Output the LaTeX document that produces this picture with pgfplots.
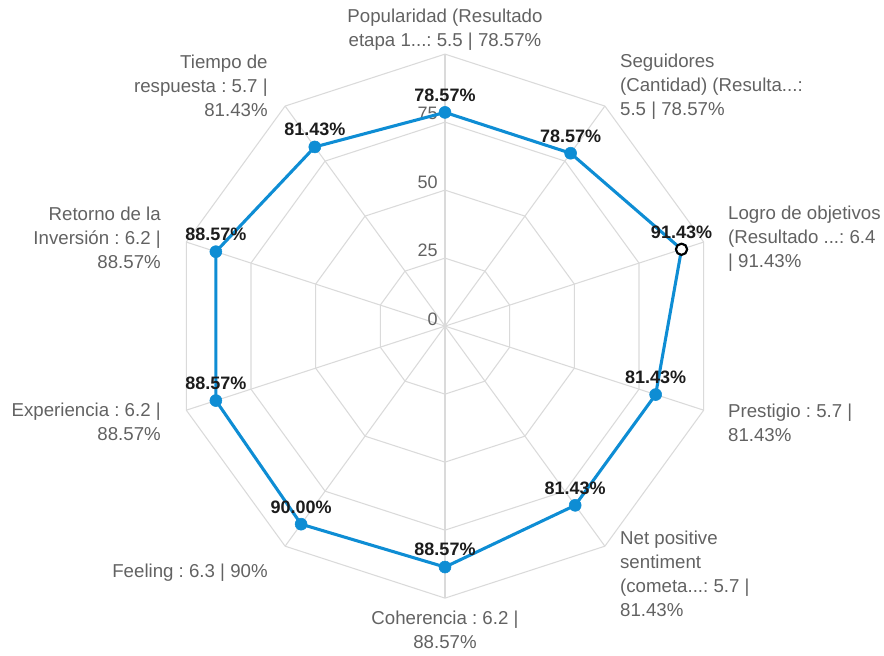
\documentclass[border=0pt]{standalone}
\usepackage{pgfplots}
\pgfplotsset{compat=1.18}
\usepackage{fontspec}
\setmainfont{Liberation Sans}
\frenchspacing

\definecolor{serie}{RGB}{14,141,212}
\definecolor{rejilla}{RGB}{218,218,218}
\definecolor{etiq}{RGB}{98,98,98}
\definecolor{valor}{RGB}{28,28,28}

\tikzset{
  cat/.style={inner sep=0pt, text=etiq, font=\fontsize{14}{18}\selectfont},
  escala/.style={inner sep=0pt, text=etiq, font=\fontsize{13.5}{16}\selectfont, anchor=east},
}

\begin{document}
\begin{tikzpicture}
\begin{axis}[
  name=radar,
  x=2.04pt, y=2.04pt,
  xmin=-163.6, xmax=161.4, ymin=-121, ymax=119.9,
  hide axis, clip=false,
]

% decagonal rings
\pgfplotsinvokeforeach{25,50,75,100}{
  \addplot[rejilla, line width=0.8pt, data cs=polar, mark=none, forget plot]
    coordinates {(90,#1) (54,#1) (18,#1) (-18,#1) (-54,#1) (-90,#1)
                 (-126,#1) (-162,#1) (162,#1) (126,#1) (90,#1)};
}
% spokes
\pgfplotsinvokeforeach{90,54,18,-18,-54,-90,-126,-162,162,126}{
  \addplot[rejilla, line width=0.8pt, data cs=polar, mark=none, forget plot]
    coordinates {(#1,0) (#1,100)};
}

% radial scale
\node[escala] at (axis cs:-2.6,2.6)  {0};
\node[escala] at (axis cs:-2.6,27.8) {25};
\node[escala] at (axis cs:-2.6,53.0) {50};
\node[escala] at (axis cs:-2.6,78.3) {75};

% series outline
\addplot[serie, line width=2.3pt, data cs=polar, mark=none, forget plot]
  coordinates {(90,78.57) (54,78.57) (18,91.43) (-18,81.43) (-54,81.43)
               (-90,88.57) (-126,90.00) (-162,88.57) (162,88.57) (126,81.43)
               (90,78.57)};

% markers with value labels
\addplot[only marks, mark=*, mark size=4.5pt, color=serie, data cs=polar,
  point meta=explicit symbolic,
  nodes near coords, nodes near coords align=center,
  every node near coord/.append style={yshift=13pt, inner sep=0pt,
    text=valor, font=\fontsize{13.5}{16}\selectfont\bfseries}]
  coordinates {(90,78.57) [78.57\%] (54,78.57) [78.57\%] (18,91.43) [91.43\%]
               (-18,81.43) [81.43\%] (-54,81.43) [81.43\%] (-90,88.57) [88.57\%]
               (-126,90.00) [90.00\%] (-162,88.57) [88.57\%] (162,88.57) [88.57\%]
               (126,81.43) [81.43\%]};

% highlighted point
\addplot[only marks, mark=*, mark size=4.2pt, data cs=polar,
  mark options={fill=white, draw=black, line width=1.6pt}]
  coordinates {(18,91.43)};

% category labels
\node[cat, align=center, anchor=center] at (axis cs:0,108.8)
  {Popularidad (Resultado\\etapa 1...: 5.5 | 78.57\%};
\node[cat, align=left, anchor=west] at (axis cs:64.3,88.2)
  {Seguidores\\(Cantidad) (Resulta...:\\5.5 | 78.57\%};
\node[cat, align=left, anchor=west] at (axis cs:104.0,32.0)
  {Logro de objetivos\\(Resultado ...: 6.4\\| 91.43\%};
\node[cat, align=left, anchor=west] at (axis cs:104.0,-35.7)
  {Prestigio : 5.7 |\\81.43\%};
\node[cat, align=left, anchor=west] at (axis cs:64.3,-91.2)
  {Net positive\\sentiment\\(cometa...: 5.7 |\\81.43\%};
\node[cat, align=center, anchor=center] at (axis cs:0,-111.8)
  {Coherencia : 6.2 |\\88.57\%};
\node[cat, align=right, anchor=east] at (axis cs:-65.1,-90.8)
  {Feeling : 6.3 | 90\%};
\node[cat, align=right, anchor=east] at (axis cs:-104.4,-35.3)
  {Experiencia : 6.2 |\\88.57\%};
\node[cat, align=right, anchor=east] at (axis cs:-104.4,32.4)
  {Retorno de la\\Inversión : 6.2 |\\88.57\%};
\node[cat, align=right, anchor=east] at (axis cs:-65.1,88.2)
  {Tiempo de\\respuesta : 5.7 |\\81.43\%};
\end{axis}
\pgfresetboundingbox
\path (radar.south west) rectangle (radar.north east);
\end{tikzpicture}
\end{document}
